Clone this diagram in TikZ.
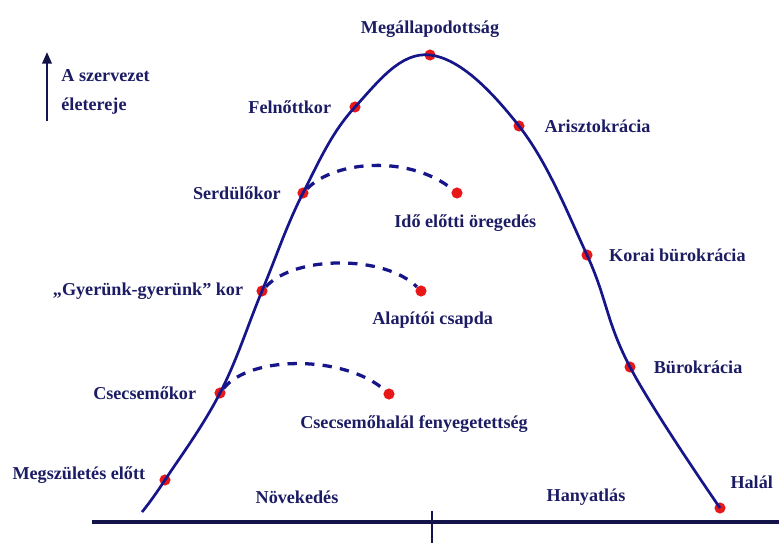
\documentclass[tikz,border=0pt]{standalone}
\usepackage{fontspec}
\setmainfont{Liberation Serif}
\usepackage{tikz}
\usetikzlibrary{positioning,arrows.meta}
\definecolor{lifeblue}{RGB}{22,22,138}
\definecolor{labelblue}{RGB}{28,28,100}
\definecolor{axisblue}{RGB}{20,20,75}
\definecolor{dotred}{RGB}{232,24,24}
\tikzset{
  stage/.style={circle,fill=dotred,minimum size=9.5pt,inner sep=0pt},
  txt/.style={text=labelblue,font=\fontsize{15.5}{18}\selectfont\bfseries,inner sep=1pt},
  lifecurve/.style={draw=lifeblue,line width=2.3pt},
  trap/.style={draw=lifeblue,line width=2.8pt,dash pattern=on 8pt off 7pt},
}

\begin{document}
\begin{tikzpicture}[x=0.03cm,y=-0.03cm]
\useasboundingbox (0,0) rectangle (779,543);
% stages on the life curve
\coordinate (start) at (142,512);
\node[stage] (born)  at (165,480) {};
\node[stage] (baby)  at (220,393) {};
\node[stage] (gogo)  at (262,291) {};
\node[stage] (teen)  at (303,193) {};
\node[stage] (adult) at (355,107) {};
\node[stage] (prime) at (430,55)  {};
\node[stage] (arist) at (519,126) {};
\node[stage] (early) at (587,255) {};
\node[stage] (bureau) at (630,367) {};
\node[stage] (death) at (720,508) {};
% traps
\node[stage] (aging)  at (457,193) {};
\node[stage] (founder) at (421,291) {};
\node[stage] (infdeath) at (389,394) {};
% life curve
\draw[lifecurve] plot[smooth,tension=0.65] coordinates {(start) (born.center) (baby.center)
  (gogo.center) (teen.center) (adult.center) (prime.center) (arist.center)
  (early.center) (bureau.center) (death.center)};
% dashed side paths
\draw[trap] (teen) .. controls (335,160) and (410,155) .. (aging);
\draw[trap] (gogo) .. controls (295,255) and (385,255) .. (founder);
\draw[trap] (baby) .. controls (250,355) and (345,355) .. (infdeath);
% labels
\node[txt,above=0.3cm of prime] {Megállapodottság};
\node[txt,left=0.5cm of adult] {Felnőttkor};
\node[txt,right=0.55cm of arist] {Arisztokrácia};
\node[txt,left=0.45cm of teen] {Serdülőkor};
\node[txt,below=0.42cm of aging,xshift=0.25cm] {Idő előtti öregedés};
\node[txt,right=0.45cm of early] {Korai bürokrácia};
\node[txt,left=0.35cm of gogo] {„Gyerünk-gyerünk” kor};
\node[txt,below=0.42cm of founder,xshift=0.35cm] {Alapítói csapda};
\node[txt,right=0.5cm of bureau] {Bürokrácia};
\node[txt,left=0.5cm of baby] {Csecsemőkor};
\node[txt,below=0.42cm of infdeath,xshift=0.75cm] {Csecsemőhalál fenyegetettség};
\node[txt,left=0.38cm of born,yshift=0.15cm] {Megszületés előtt};
\node[txt,above right=0.4cm and 0.15cm of death] {Halál};
\node[txt] (grow) at (297,497) {Növekedés};
\node[txt] (decline) at (586,497) {Hanyatlás};
% vitality axis
\coordinate (vitbase) at (47,121);
\coordinate (vittip) at (47,52);
\draw[axisblue,line width=2.2pt,-{Triangle[length=10pt,width=8pt]}] (vitbase) -- (vittip);
\node[txt,align=left,anchor=west,font=\fontsize{15.5}{25}\selectfont\bfseries] (vital) at (60,92) {A szervezet\\életereje};
% time axis
\coordinate (axl) at (92,522);
\coordinate (axr) at (779,522);
\coordinate (midtop) at (432,511);
\coordinate (midbot) at (432,543);
\draw[axisblue,line width=2.8pt] (axl) -- (axr);
\draw[axisblue,line width=1.6pt] (midtop) -- (midbot);
\end{tikzpicture}
\end{document}
